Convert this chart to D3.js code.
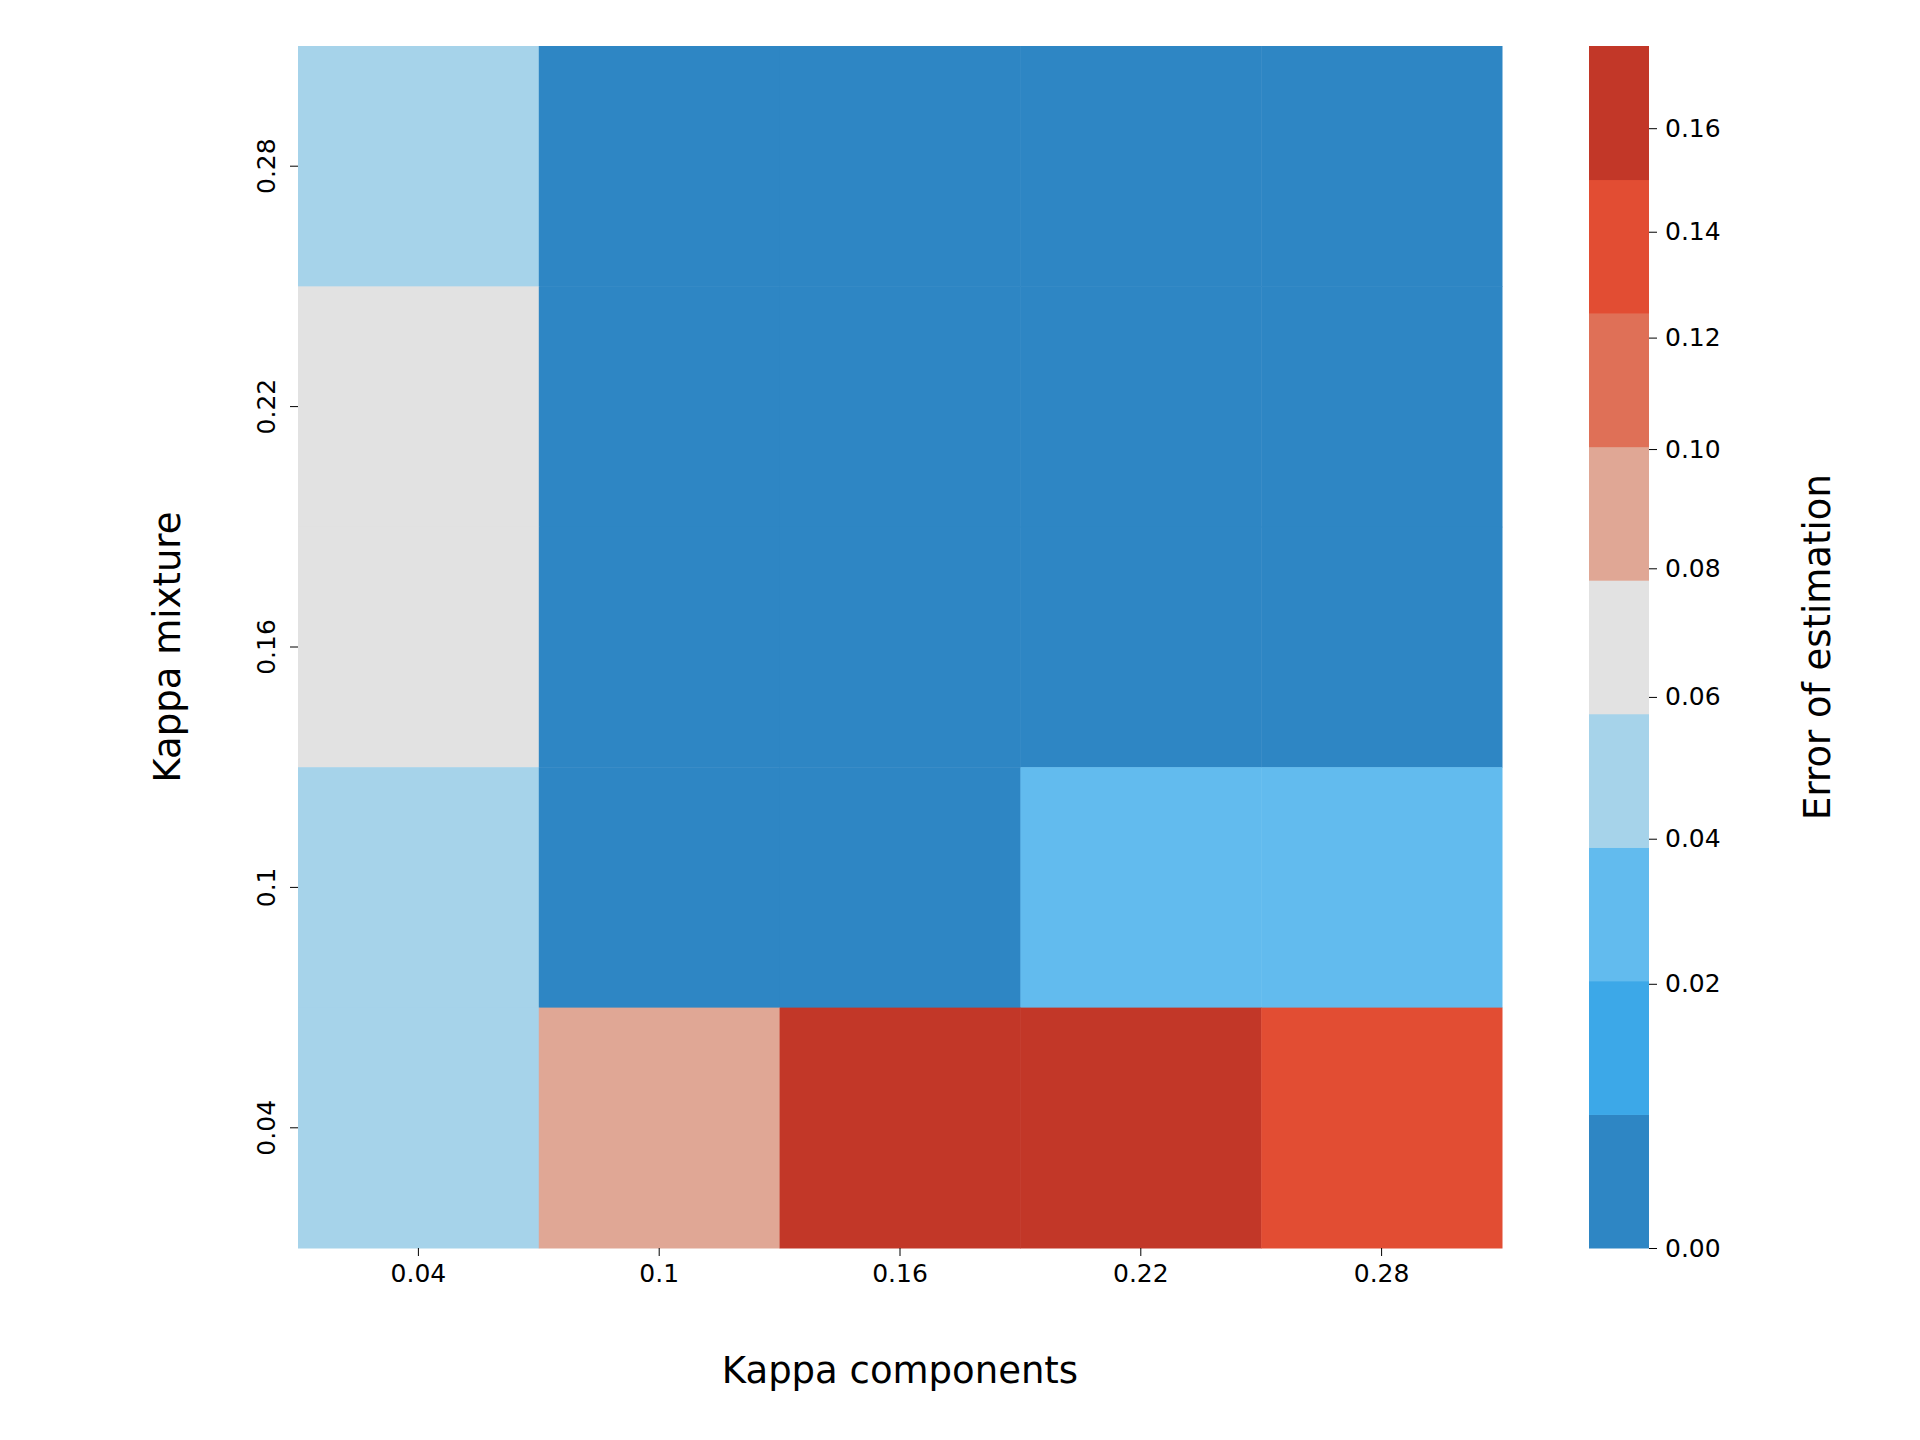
<!DOCTYPE html><html><head><script src="https://cdn.jsdelivr.net/npm/d3@7"></script>
<style>body{margin:0;background:#fff}text{font-family:"DejaVu Sans";fill:#000}</style></head><body>
<svg id="c" width="1920" height="1440"></svg>
<script>
const xCats=["0.04","0.1","0.16","0.22","0.28"];
const yCats=["0.28","0.22","0.16","0.1","0.04"];
const values=[
 [0.045,0.005,0.005,0.005,0.005],
 [0.065,0.005,0.005,0.005,0.005],
 [0.065,0.005,0.005,0.005,0.005],
 [0.045,0.005,0.005,0.03,0.03],
 [0.045,0.09,0.165,0.165,0.14]];
const binEdges=[0,0.011,0.0202,0.0388,0.0574,0.078,0.1004,0.1244,0.150,0.176];
const binColors=["#2e86c4","#3ca8e8","#62bbee","#a6d3ea","#e2e2e2","#e0a795","#df7057","#e24d33","#c23728"];
const cbTicks=[0,0.02,0.04,0.06,0.08,0.10,0.12,0.14,0.16];
const svg=d3.select("#c");
const L=298,R=1502,T=46,B=1248;
const x=d3.scaleBand().domain(xCats).range([L,R]);
const y=d3.scaleBand().domain(yCats).range([T,B]);
const color=d3.scaleThreshold().domain(binEdges.slice(1,-1)).range(binColors);
values.forEach((row,i)=>row.forEach((v,j)=>{
 svg.append("rect").attr("x",x(xCats[j])).attr("y",y(yCats[i])).attr("width",x.bandwidth()+0.5).attr("height",y.bandwidth()+0.5).attr("fill",color(v));}));
const xa=svg.append("g").attr("transform",`translate(0,${B})`).call(d3.axisBottom(x).tickSize(8).tickPadding(8));
xa.select(".domain").remove();xa.selectAll("text").attr("font-size",25);
const ya=svg.append("g").attr("transform",`translate(${L},0)`).call(d3.axisLeft(y).tickSize(8).tickPadding(8));
ya.select(".domain").remove();
ya.selectAll("text").attr("font-size",25).attr("text-anchor","middle").attr("transform","rotate(-90)").attr("x",0).attr("y",0).attr("dy",0)
 .each(function(d){d3.select(this).attr("transform",`translate(-32,0) rotate(-90)`).attr("dy","0.35em");});
svg.append("text").attr("x",(L+R)/2).attr("y",1383).attr("text-anchor","middle").attr("font-size",37).text("Kappa components");
svg.append("text").attr("transform",`translate(180,${(T+B)/2}) rotate(-90)`).attr("text-anchor","middle").attr("font-size",37).text("Kappa mixture");
// colorbar
const cL=1589,cW=60;
const pos=d3.scaleLinear().domain(binEdges).range(d3.range(10).map(i=>B-i*(B-T)/9));
binColors.forEach((c,i)=>svg.append("rect").attr("x",cL).attr("y",pos(binEdges[i+1])).attr("width",cW).attr("height",pos(binEdges[i])-pos(binEdges[i+1])+0.5).attr("fill",c));
const ca=svg.append("g").attr("transform",`translate(${cL+cW},0)`).call(d3.axisRight(pos).tickValues(cbTicks).tickFormat(d3.format(".2f")).tickSize(8).tickPadding(8));
ca.select(".domain").remove();ca.selectAll("text").attr("font-size",25);
svg.append("text").attr("transform",`translate(1830,${(T+B)/2}) rotate(-90)`).attr("text-anchor","middle").attr("font-size",37).text("Error of estimation");
</script></body></html>
